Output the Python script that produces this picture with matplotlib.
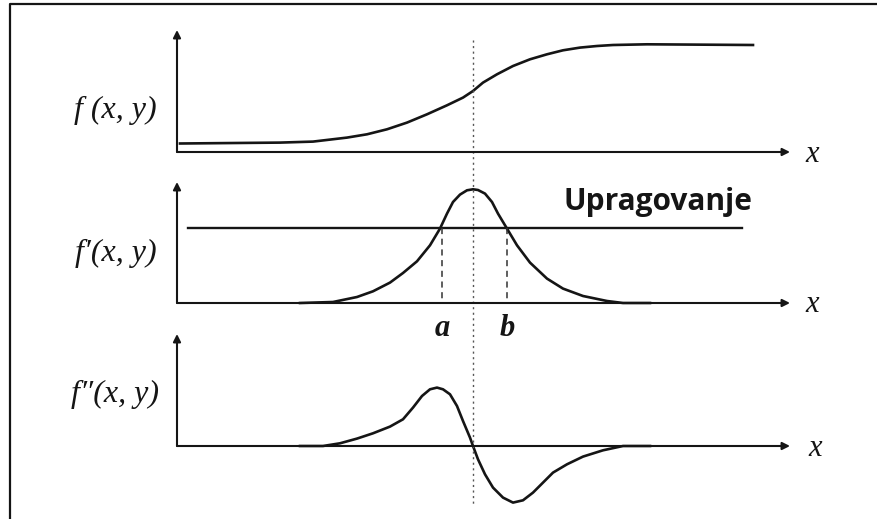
import matplotlib.pyplot as plt

# f(x, y): smooth step (edge profile)
f_x = [180, 280, 313, 347, 367, 387, 407, 427, 447, 463, 473, 483, 497, 513,
       530, 547, 563, 580, 597, 613, 647, 753]
f_y = [8.5, 9.4, 10.4, 14.4, 17.7, 22.7, 29.4, 37.7, 46.7, 54.4, 61, 69.4,
       77.7, 86, 92.7, 97.7, 101.7, 104.4, 106, 107, 107.7, 107]

# f'(x, y): first derivative, single peak
d1_x = [300, 333, 357, 373, 390, 403, 417, 430, 440, 447, 453, 460, 467, 473,
        478, 485, 492, 498, 507, 517, 530, 547, 563, 583, 607, 623, 650]
d1_y = [0, 1, 6, 11.7, 20.4, 30, 41.7, 57.7, 74.4, 89.4, 101, 108.4, 112.7,
        113.7, 113, 109.4, 101, 89.4, 74.4, 57.7, 40.4, 24.4, 14.4, 7, 2, 0, 0]

# f''(x, y): second derivative, zero crossing at the edge
d2_x = [300, 323, 340, 357, 373, 390, 403, 413, 422, 430, 437, 443, 450, 457,
        463, 470, 473, 478, 485, 493, 503, 513, 523, 533, 543, 553, 567, 583,
        603, 623, 650]
d2_y = [0, 0, 2.7, 7.4, 12.7, 19.4, 26.7, 38.4, 50, 56.7, 58.4, 56.7, 51.7,
        40, 25, 8.4, 0, -13.3, -28.3, -41.6, -51.6, -56.6, -54.3, -46.6, -36.6,
        -26.6, -18.3, -10.6, -4.3, 0, 0]

threshold = 75
x_edge = 473
x_a, x_b = 442, 507

serif = ['Liberation Serif', 'DejaVu Serif']
ink = '#151515'

fig = plt.figure(figsize=(8.77, 5.19), dpi=100)
ax = fig.add_axes([0, 0, 1, 1])
ax.set_xlim(0, 877)
ax.set_ylim(519, 0)
ax.axis('off')

# frame
ax.plot([10, 10, 877], [519, 4, 4], color=ink, lw=1.6)

x0, x_tip = 177, 790
bases = [152, 303, 446]
tops = [30, 182, 334]
labels = ['f (x, y)', 'f\u2032(x, y)', 'f\u2033(x, y)']
label_x = [157, 157, 159]
label_dy = [-42, -50, -52]
xlab_x = [812, 812, 815]

for base, top, lab, lx, ldy, xx in zip(bases, tops, labels, label_x, label_dy, xlab_x):
    arrow = dict(arrowstyle='-|>', color=ink, lw=1.5, mutation_scale=11,
                 shrinkA=0, shrinkB=0)
    ax.annotate('', xy=(x_tip, base), xytext=(x0, base), arrowprops=arrow)
    ax.annotate('', xy=(x0, top), xytext=(x0, base), arrowprops=arrow)
    ax.text(lx, base + ldy, lab, family=serif, style='italic', fontsize=23,
            ha='right', va='center', color=ink)
    ax.text(xx, base + 2, 'x', family=serif, style='italic', fontsize=22,
            ha='center', va='center', color=ink)

# curves
ax.plot(f_x, [bases[0] - v for v in f_y], color=ink, lw=1.9)
ax.plot(d1_x, [bases[1] - v for v in d1_y], color=ink, lw=1.9)
ax.plot(d2_x, [bases[2] - v for v in d2_y], color=ink, lw=1.9)

# threshold on f'
ty = bases[1] - threshold
ax.plot([188, 742], [ty, ty], color=ink, lw=1.7)
ax.text(564, 202, 'Upragovanje', family=['Open Sans', 'DejaVu Sans'],
        fontweight='bold', fontsize=21.5, ha='left', va='center', color=ink)

for xv, name in [(x_a, 'a'), (x_b, 'b')]:
    ax.plot([xv, xv], [ty, bases[1]], color='#333333', lw=1.1,
            linestyle=(0, (4, 3)))
    ax.text(xv, 328, name, family=serif, style='italic', fontweight='bold',
            fontsize=22, ha='center', va='center', color=ink)

# edge position through all three panels
ax.plot([x_edge, x_edge], [40, 505], color='#555555', lw=1.0,
        linestyle=(0, (1.5, 2.5)))

fig.savefig('out.png', dpi=100)
